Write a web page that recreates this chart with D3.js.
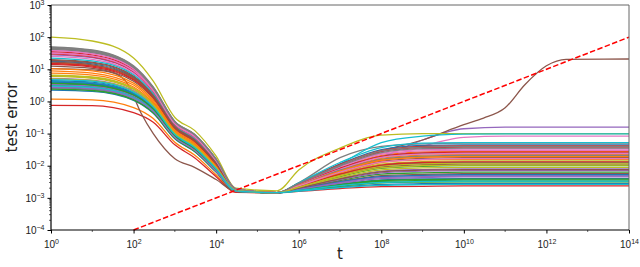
<!DOCTYPE html>
<html>
<head>
<meta charset="utf-8">
<script src="https://d3js.org/d3.v7.min.js"></script>
<style>
  body { margin: 0; background: #fff; }
  svg { font-family: "DejaVu Sans", sans-serif; }
</style>
</head>
<body>
<svg id="chart" width="640" height="267"></svg>
<script>
// time steps shared by the runs
var tSteps = [1, 1e1, 1e2, 3e2, 1e3, 3e3, 1e4, 3e4, 3e5, 1e6, 1e7, 1e8, 1e9, 1e10, 1e11, 1e14];

// log10(test error) per run at tSteps (run 5 is drawn from brownT / brownLog)
var runsLog = [
  [0.55, 0.50, 0.19, -0.25, -1.08, -1.48, -2.14, -2.79, -2.84, -2.65, -2.28, -1.99, -1.92, -1.9, -1.9, -1.9],
  [0.07, 0.05, -0.19, -0.53, -1.27, -1.67, -2.28, -2.82, -2.84, -2.58, -2.07, -1.68, -1.57, -1.55, -1.55, -1.55],
  [0.5, 0.46, 0.15, -0.28, -1.1, -1.5, -2.15, -2.79, -2.84, -2.71, -2.46, -2.26, -2.22, -2.2, -2.2, -2.2],
  [-0.12, -0.13, -0.35, -0.65, -1.35, -1.75, -2.34, -2.83, -2.84, -2.8, -2.71, -2.65, -2.64, -2.63, -2.63, -2.63],
  [1.45, 1.36, 0.91, 0.3, -0.72, -1.12, -1.87, -2.73, -2.84, -2.7, -2.3, -1.75, -1.2, -0.85, -0.8, -0.8],
  null,
  [1.6, 1.5, 1.03, 0.39, -0.66, -1.06, -1.82, -2.72, -2.84, -2.72, -2.35, -1.85, -1.4, -1.12, -1.08, -1.08],
  [1.7, 1.6, 1.11, 0.45, -0.62, -1.02, -1.79, -2.72, -2.84, -2.53, -1.75, -1.4, -1.32, -1.3, -1.3, -1.3],
  [2.0, 1.88, 1.35, 0.63, -0.5, -0.9, -1.7, -2.7, -2.78, -2.13, -1.45, -1.05, -1.0, -1.0, -1.0, -1.0],
  [0.62, 0.57, 0.25, -0.2, -1.05, -1.45, -2.11, -2.78, -2.84, -2.6, -1.95, -1.28, -1.08, -1.02, -1.01, -1.01],
  [1.25, 1.17, 0.75, 0.18, -0.8, -1.2, -1.93, -2.75, -2.84, -2.54, -1.95, -1.5, -1.37, -1.35, -1.35, -1.35],
  [0.95, 0.88, 0.51, -0.01, -0.92, -1.32, -2.02, -2.76, -2.84, -2.6, -2.13, -1.77, -1.67, -1.65, -1.65, -1.65],
  [0.42, 0.38, 0.09, -0.32, -1.13, -1.53, -2.17, -2.79, -2.84, -2.76, -2.61, -2.49, -2.46, -2.45, -2.45, -2.45],
  [1.15, 1.07, 0.67, 0.12, -0.84, -1.24, -1.96, -2.75, -2.84, -2.56, -1.99, -1.56, -1.44, -1.42, -1.42, -1.42],
  [0.4, 0.36, 0.07, -0.34, -1.14, -1.54, -2.18, -2.8, -2.84, -2.69, -2.4, -2.17, -2.12, -2.1, -2.1, -2.1],
  [1.3, 1.22, 0.79, 0.21, -0.78, -1.18, -1.91, -2.74, -2.84, -2.62, -2.19, -1.86, -1.77, -1.75, -1.75, -1.75],
  [1.52, 1.42, 0.97, 0.34, -0.69, -1.09, -1.84, -2.73, -2.84, -2.57, -2.02, -1.62, -1.5, -1.48, -1.48, -1.48],
  [1.66, 1.56, 1.08, 0.42, -0.64, -1.04, -1.8, -2.72, -2.84, -2.59, -2.1, -1.72, -1.62, -1.6, -1.6, -1.6],
  [0.78, 0.72, 0.37, -0.11, -0.99, -1.39, -2.07, -2.77, -2.84, -2.64, -2.25, -1.95, -1.87, -1.85, -1.85, -1.85],
  [0.45, 0.41, 0.11, -0.31, -1.12, -1.52, -2.17, -2.79, -2.84, -2.73, -2.52, -2.35, -2.32, -2.3, -2.3, -2.3],
  [0.35, 0.31, 0.03, -0.37, -1.16, -1.56, -2.2, -2.8, -2.84, -2.78, -2.67, -2.58, -2.56, -2.55, -2.55, -2.55],
  [1.2, 1.12, 0.71, 0.15, -0.82, -1.22, -1.94, -2.75, -2.84, -2.61, -2.16, -1.81, -1.72, -1.7, -1.7, -1.7],
  [0.58, 0.53, 0.21, -0.23, -1.07, -1.47, -2.13, -2.79, -2.84, -2.67, -2.34, -2.08, -2.02, -2.0, -2.0, -2.0],
  [1.55, 1.45, 0.99, 0.36, -0.68, -1.08, -1.84, -2.73, -2.84, -2.55, -1.96, -1.53, -1.4, -1.38, -1.38, -1.38],
  [0.72, 0.66, 0.33, -0.14, -1.01, -1.41, -2.08, -2.78, -2.84, -2.7, -2.43, -2.22, -2.17, -2.15, -2.15, -2.15],
  [1.1, 1.03, 0.63, 0.09, -0.86, -1.26, -1.97, -2.75, -2.84, -2.66, -2.31, -2.04, -1.97, -1.95, -1.95, -1.95],
  [1.4, 1.31, 0.87, 0.27, -0.74, -1.14, -1.88, -2.74, -2.84, -2.58, -2.05, -1.65, -1.54, -1.52, -1.52, -1.52],
  [1.62, 1.52, 1.05, 0.4, -0.65, -1.05, -1.81, -2.72, -2.84, -2.56, -2.01, -1.59, -1.47, -1.45, -1.45, -1.45],
  [0.82, 0.76, 0.41, -0.08, -0.97, -1.37, -2.05, -2.77, -2.84, -2.68, -2.37, -2.13, -2.07, -2.05, -2.05, -2.05],
  [1.35, 1.26, 0.83, 0.24, -0.76, -1.16, -1.9, -2.74, -2.84, -2.53, -1.9, -1.44, -1.3, -1.28, -1.28, -1.28],
  [0.65, 0.6, 0.27, -0.18, -1.04, -1.44, -2.11, -2.78, -2.84, -2.75, -2.58, -2.44, -2.41, -2.4, -2.4, -2.4],
  [1.02, 0.95, 0.57, 0.04, -0.89, -1.29, -1.99, -2.76, -2.84, -2.63, -2.22, -1.9, -1.82, -1.8, -1.8, -1.8],
  [0.38, 0.34, 0.05, -0.35, -1.15, -1.55, -2.19, -2.8, -2.84, -2.77, -2.64, -2.53, -2.51, -2.5, -2.5, -2.5],
  [1.48, 1.39, 0.93, 0.31, -0.71, -1.11, -1.86, -2.73, -2.84, -2.59, -2.08, -1.71, -1.6, -1.58, -1.58, -1.58],
  [0.52, 0.47, 0.17, -0.26, -1.09, -1.49, -2.14, -2.79, -2.84, -2.74, -2.55, -2.4, -2.37, -2.35, -2.35, -2.35],
  [1.28, 1.2, 0.77, 0.19, -0.79, -1.19, -1.92, -2.74, -2.84, -2.72, -2.49, -2.31, -2.27, -2.25, -2.25, -2.25],
  [1.58, 1.48, 1.01, 0.37, -0.67, -1.07, -1.83, -2.73, -2.84, -2.6, -2.11, -1.74, -1.64, -1.62, -1.62, -1.62],
  [1.68, 1.58, 1.09, 0.43, -0.63, -1.03, -1.8, -2.72, -2.84, -2.61, -2.14, -1.8, -1.7, -1.68, -1.68, -1.68],
  [0.7, 0.65, 0.31, -0.16, -1.02, -1.42, -2.09, -2.78, -2.84, -2.66, -2.29, -2.01, -1.94, -1.92, -1.92, -1.92],
  [0.48, 0.44, 0.13, -0.29, -1.11, -1.51, -2.16, -2.79, -2.84, -2.79, -2.68, -2.61, -2.59, -2.58, -2.58, -2.58],
  [0.6, 0.55, 0.23, -0.22, -1.06, -1.46, -2.12, -2.78, -2.84, -2.73, -2.5, -2.34, -2.3, -2.28, -2.28, -2.28],
  [0.88, 0.82, 0.45, -0.05, -0.95, -1.35, -2.04, -2.77, -2.84, -2.62, -2.17, -1.83, -1.74, -1.72, -1.72, -1.72],
  [0.56, 0.51, 0.2, -0.24, -1.08, -1.48, -2.13, -2.79, -2.84, -2.76, -2.59, -2.46, -2.43, -2.42, -2.42, -2.42],
  [1.18, 1.1, 0.69, 0.13, -0.83, -1.23, -1.95, -2.75, -2.84, -2.65, -2.26, -1.98, -1.9, -1.88, -1.88, -1.88],
  [0.44, 0.4, 0.1, -0.31, -1.12, -1.52, -2.17, -2.79, -2.84, -2.74, -2.53, -2.37, -2.34, -2.32, -2.32, -2.32],
  [1.22, 1.14, 0.73, 0.16, -0.81, -1.21, -1.93, -2.75, -2.84, -2.7, -2.41, -2.19, -2.14, -2.12, -2.12, -2.12],
  [1.5, 1.41, 0.95, 0.33, -0.7, -1.1, -1.85, -2.73, -2.84, -2.63, -2.2, -1.89, -1.8, -1.78, -1.78, -1.78],
  [1.64, 1.54, 1.06, 0.41, -0.64, -1.04, -1.81, -2.72, -2.84, -2.55, -1.98, -1.54, -1.42, -1.4, -1.4, -1.4],
  [0.8, 0.74, 0.39, -0.1, -0.98, -1.38, -2.06, -2.77, -2.84, -2.67, -2.32, -2.07, -2.0, -1.98, -1.98, -1.98],
  [0.68, 0.63, 0.29, -0.17, -1.03, -1.43, -2.1, -2.78, -2.84, -2.77, -2.62, -2.52, -2.49, -2.48, -2.48, -2.48]
];

// the one run that blows up late
var brownT = [1, 10, 30, 70, 150, 300, 1e3, 3e3, 1e4, 3e4, 3e5, 1e6, 1e7, 1e8, 1e9, 1e10, 3e10, 1e11, 3e11, 1e12, 3e12, 1e14];
var brownLog = [1.02, 0.98, 0.9, 0.57, -0.35, -1.0, -1.78, -2.05, -2.43, -2.8, -2.84, -2.6, -2.1, -1.55, -1.2, -0.72, -0.52, -0.2, 0.52, 1.11, 1.31, 1.32];

// reference slope line (red dashed)
var refT = [1e2, 1e14];
var refErr = [1e-4, 1e2];

var xTicks = [1e0, 1e2, 1e4, 1e6, 1e8, 1e10, 1e12, 1e14];
var yTicks = [1e-4, 1e-3, 1e-2, 1e-1, 1e0, 1e1, 1e2, 1e3];

var colors = ["#1f77b4", "#ff7f0e", "#2ca02c", "#d62728", "#9467bd",
              "#8c564b", "#e377c2", "#7f7f7f", "#bcbd22", "#17becf"];

var margin = { left: 51, right: 629, top: 5, bottom: 230 };

var svg = d3.select("#chart");

var x = d3.scaleLog().domain([1, 1e14]).range([margin.left, margin.right]);
var y = d3.scaleLog().domain([1e-4, 1e3]).range([margin.bottom, margin.top]);

var series = runsLog.map(function (v, i) {
    if (i === 5) return brownT.map(function (t, j) { return [t, Math.pow(10, brownLog[j])]; });
    return tSteps.map(function (t, j) { return [t, Math.pow(10, v[j])]; });
});

var line = d3.line()
    .x(function (d) { return x(d[0]); })
    .y(function (d) { return y(d[1]); })
    .curve(d3.curveMonotoneX);

var plot = svg.append("g");

plot.selectAll(".run")
    .data(series)
    .enter().append("path")
    .attr("class", "run")
    .attr("d", line)
    .attr("fill", "none")
    .attr("stroke", function (d, i) { return colors[i % 10]; })
    .attr("stroke-width", 1.3);

plot.append("path")
    .datum(refT.map(function (t, i) { return [t, refErr[i]]; }))
    .attr("d", d3.line().x(function (d) { return x(d[0]); }).y(function (d) { return y(d[1]); }))
    .attr("fill", "none")
    .attr("stroke", "#ff0000")
    .attr("stroke-width", 1.5)
    .attr("stroke-dasharray", "5.5,2.4");

// superscript tick labels like 10^-3
function powLabel(sel) {
    sel.each(function (d) {
        var e = Math.round(Math.log10(d));
        var txt = d3.select(this).text(null);
        txt.append("tspan").text("10");
        txt.append("tspan")
            .attr("dy", "-0.5em")
            .attr("font-size", "7px")
            .text(String(e).replace("-", "\u2212"));
    });
}

var xAxis = svg.append("g")
    .attr("transform", "translate(0," + margin.bottom + ")")
    .call(d3.axisBottom(x).tickValues(xTicks).tickSize(3.5).tickPadding(7));
xAxis.select(".domain").remove();
xAxis.selectAll(".tick text").attr("font-size", "10px").attr("fill", "#222").call(powLabel);

// minor ticks
var xMinor = [1e1, 1e3, 1e5, 1e7, 1e9, 1e11, 1e13];
svg.append("g").selectAll("line").data(xMinor).enter().append("line")
    .attr("x1", function (d) { return x(d); }).attr("x2", function (d) { return x(d); })
    .attr("y1", margin.bottom).attr("y2", margin.bottom + 2)
    .attr("stroke", "#000").attr("stroke-width", 0.6);

var yMinor = [];
yTicks.slice(0, -1).forEach(function (d) {
    for (var k = 2; k < 10; k++) yMinor.push(d * k);
});
svg.append("g").selectAll("line").data(yMinor).enter().append("line")
    .attr("x1", margin.left - 2).attr("x2", margin.left)
    .attr("y1", function (d) { return y(d); }).attr("y2", function (d) { return y(d); })
    .attr("stroke", "#000").attr("stroke-width", 0.6);

var yAxis = svg.append("g")
    .attr("transform", "translate(" + margin.left + ",0)")
    .call(d3.axisLeft(y).tickValues(yTicks).tickSize(3.5).tickPadding(3));
yAxis.select(".domain").remove();
yAxis.selectAll(".tick text").attr("font-size", "10px").attr("fill", "#222").call(powLabel);

// spines
svg.append("line").attr("x1", margin.left).attr("x2", margin.right).attr("y1", margin.top).attr("y2", margin.top)
    .attr("stroke", "#666").attr("stroke-width", 1);
svg.append("line").attr("x1", margin.right).attr("x2", margin.right).attr("y1", margin.top).attr("y2", margin.bottom)
    .attr("stroke", "#666").attr("stroke-width", 1);
svg.append("line").attr("x1", margin.left).attr("x2", margin.left).attr("y1", margin.top).attr("y2", margin.bottom)
    .attr("stroke", "#000").attr("stroke-width", 1.2);
svg.append("line").attr("x1", margin.left).attr("x2", margin.right).attr("y1", margin.bottom).attr("y2", margin.bottom)
    .attr("stroke", "#000").attr("stroke-width", 1.2);

svg.append("text")
    .attr("x", (margin.left + margin.right) / 2).attr("y", 259)
    .attr("text-anchor", "middle")
    .attr("font-size", "15px").attr("fill", "#222")
    .text("t");

svg.append("text")
    .attr("transform", "translate(17," + (margin.top + margin.bottom) / 2 + ") rotate(-90)")
    .attr("text-anchor", "middle")
    .attr("font-size", "15px").attr("fill", "#222")
    .text("test error");
</script>
</body>
</html>
